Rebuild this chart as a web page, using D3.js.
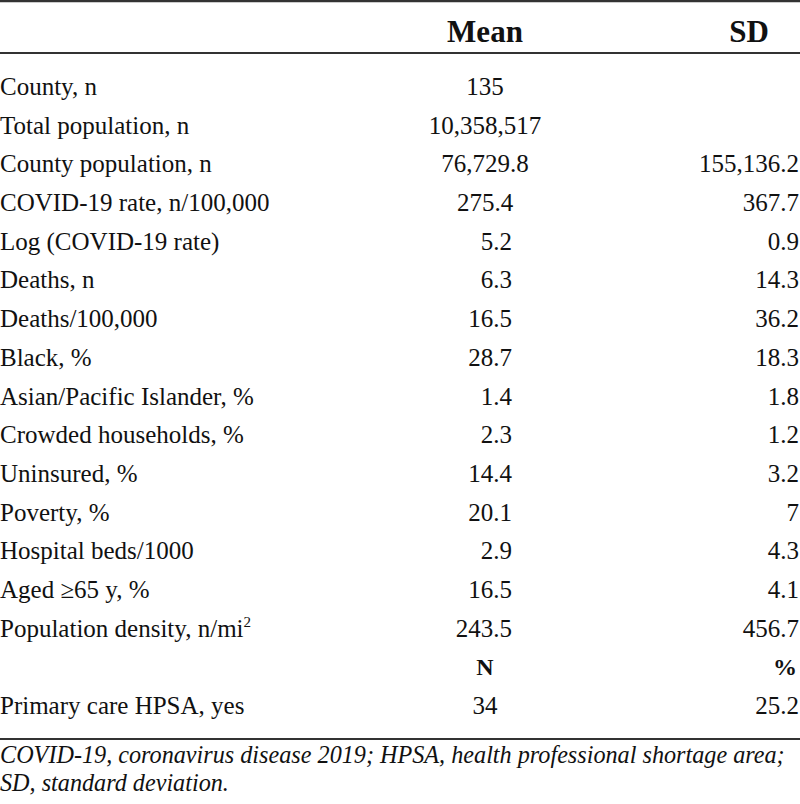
<!DOCTYPE html>
<html>
<head>
<meta charset="utf-8">
<script src="https://cdn.jsdelivr.net/npm/d3@7"></script>
<style>
  html, body { margin: 0; padding: 0; background: #fff; }
  svg { display: block; }
</style>
</head>
<body>
<svg id="chart" width="800" height="804"></svg>
<script>
// ---- data ----
const headers = ["Mean", "SD"];
const labels = [
  "County, n",
  "Total population, n",
  "County population, n",
  "COVID-19 rate, n/100,000",
  "Log (COVID-19 rate)",
  "Deaths, n",
  "Deaths/100,000",
  "Black, %",
  "Asian/Pacific Islander, %",
  "Crowded households, %",
  "Uninsured, %",
  "Poverty, %",
  "Hospital beds/1000",
  "Aged \u226565 y, %",
  "Population density, n/mi",
  "",
  "Primary care HPSA, yes"
];
const means = ["135", "10,358,517", "76,729.8", "275.4", "5.2", "6.3", "16.5", "28.7", "1.4", "2.3", "14.4", "20.1", "2.9", "16.5", "243.5", "N", "34"];
const sds   = ["", "", "155,136.2", "367.7", "0.9", "14.3", "36.2", "18.3", "1.8", "1.2", "3.2", "7", "4.3", "4.1", "456.7", "%", "25.2"];
const subHeaderRow = 15;
const footnotes = [
  "COVID-19, coronavirus disease 2019; HPSA, health professional shortage area;",
  "SD, standard deviation."
];

// ---- drawing ----
const svg = d3.select("#chart");
const font = "'Liberation Serif', 'Times New Roman', serif";
const ink = "#111";

const y = d3.scaleLinear().domain([0, labels.length - 1]).range([95, 714]);

// rules
const rules = [{y: 1.2, w: 2.2}, {y: 53, w: 2}, {y: 739, w: 1.8}];
svg.selectAll("line.rule").data(rules).join("line")
  .attr("x1", 0).attr("x2", 800)
  .attr("y1", d => d.y).attr("y2", d => d.y)
  .attr("stroke", "#333").attr("stroke-width", d => d.w);

// header
svg.selectAll("text.hdr").data(headers).join("text")
  .attr("x", (d, i) => i === 0 ? 485 : 749)
  .attr("y", 42)
  .attr("text-anchor", "middle")
  .attr("font-family", font).attr("font-weight", "bold")
  .attr("font-size", 31).attr("fill", ink)
  .text(d => d);

// labels
const lab = svg.selectAll("text.lab").data(labels).join("text")
  .attr("class", "lab")
  .attr("x", 0).attr("y", (d, i) => y(i))
  .attr("font-family", font).attr("font-size", 25).attr("fill", ink)
  .text(d => d);
lab.filter((d, i) => i === 14).append("tspan")
  .attr("dy", -10).attr("font-size", 15).text("2");

// mean column
const centered = new Set([0, 1, 2, 3, 15, 16]);
svg.selectAll("text.mean").data(means).join("text")
  .attr("class", "mean")
  .attr("x", (d, i) => centered.has(i) ? 485 : 512)
  .attr("y", (d, i) => y(i))
  .attr("text-anchor", (d, i) => centered.has(i) ? "middle" : "end")
  .attr("font-family", font)
  .attr("font-weight", (d, i) => i === subHeaderRow ? "bold" : "normal")
  .attr("font-size", (d, i) => i === subHeaderRow ? 24 : 25)
  .attr("fill", ink)
  .text(d => d);

// sd column
svg.selectAll("text.sd").data(sds).join("text")
  .attr("class", "sd")
  .attr("x", (d, i) => i === subHeaderRow ? 797 : 799)
  .attr("y", (d, i) => y(i))
  .attr("text-anchor", "end")
  .attr("font-family", font)
  .attr("font-weight", (d, i) => i === subHeaderRow ? "bold" : "normal")
  .attr("font-size", (d, i) => i === subHeaderRow ? 24 : 25)
  .attr("fill", ink)
  .text(d => d);

// footnotes
svg.selectAll("text.foot").data(footnotes).join("text")
  .attr("class", "foot")
  .attr("x", 0).attr("y", (d, i) => 763 + i * 28)
  .attr("font-family", font).attr("font-style", "italic")
  .attr("font-size", 24.2).attr("fill", ink)
  .text(d => d);
</script>
</body>
</html>
